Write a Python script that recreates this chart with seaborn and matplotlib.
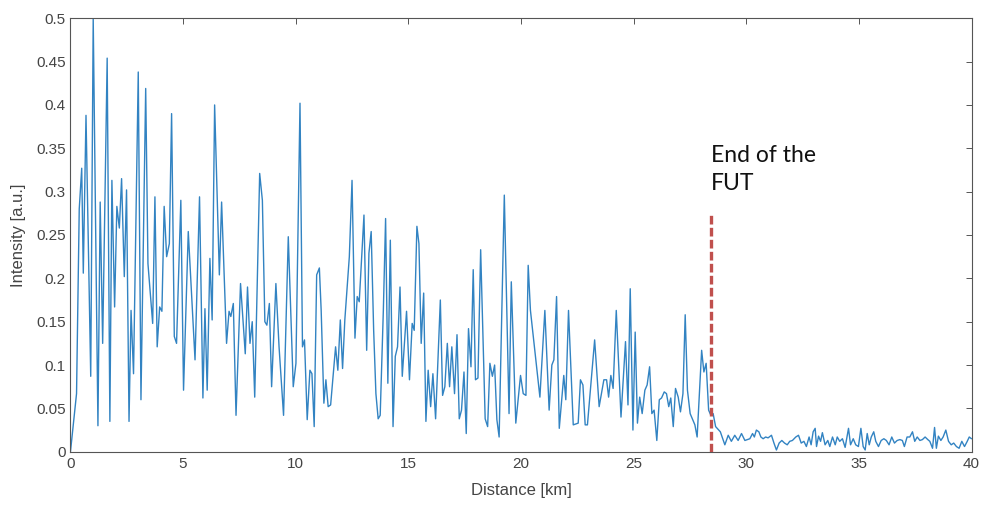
import matplotlib
matplotlib.use("Agg")
import matplotlib.pyplot as plt
import seaborn as sns
import numpy as np
import pandas as pd

# ---- data (distance in km, intensity in a.u.) ----
dist_a = [0.0, 0.27, 0.39, 0.50, 0.57, 0.69, 0.90, 1.01, 1.22, 1.32, 1.43, 1.63, 1.75, 1.84,
          1.96, 2.06, 2.17, 2.27, 2.39, 2.49, 2.60, 2.69, 2.80, 3.01, 3.13, 3.34, 3.44, 3.65,
          3.75, 3.85, 3.96, 4.06, 4.16, 4.27, 4.39, 4.49, 4.61, 4.71]
int_a = [0.0, 0.067, 0.28, 0.327, 0.206, 0.388, 0.087, 0.5, 0.03, 0.288, 0.125, 0.454, 0.035,
         0.313, 0.167, 0.283, 0.258, 0.315, 0.202, 0.302, 0.035, 0.163, 0.09, 0.438, 0.06,
         0.419, 0.217, 0.148, 0.294, 0.121, 0.167, 0.162, 0.283, 0.225, 0.24, 0.39, 0.133, 0.125]

dist_b = [4.90, 5.02, 5.23, 5.53, 5.73, 5.88, 5.97, 6.07, 6.19, 6.29, 6.40, 6.61, 6.71, 6.93,
          7.04, 7.12, 7.23, 7.35, 7.55, 7.76, 7.86, 7.97, 8.07, 8.18, 8.40, 8.52, 8.63, 8.72,
          8.83, 8.93, 9.12, 9.26, 9.46, 9.67]
int_b = [0.29, 0.071, 0.254, 0.106, 0.294, 0.062, 0.165, 0.071, 0.223, 0.152, 0.4, 0.204,
         0.288, 0.125, 0.162, 0.156, 0.171, 0.042, 0.194, 0.113, 0.19, 0.125, 0.15, 0.063,
         0.321, 0.29, 0.15, 0.146, 0.171, 0.075, 0.194, 0.121, 0.042, 0.248]

dist_c = [9.89, 10.01, 10.19, 10.30, 10.39, 10.51, 10.63, 10.72, 10.82, 10.93, 11.05, 11.13,
          11.25, 11.34, 11.44, 11.55, 11.77, 11.87, 11.98, 12.08, 12.18, 12.38, 12.50, 12.63,
          12.73, 12.82, 13.03, 13.15, 13.25, 13.35, 13.46, 13.56, 13.66, 13.75, 13.89, 13.99,
          14.09, 14.20, 14.32, 14.42, 14.52, 14.63, 14.73, 14.92]
int_c = [0.075, 0.102, 0.402, 0.121, 0.129, 0.037, 0.094, 0.09, 0.029, 0.204, 0.212, 0.163,
         0.056, 0.083, 0.052, 0.054, 0.121, 0.094, 0.152, 0.096, 0.152, 0.225, 0.313, 0.131,
         0.179, 0.173, 0.273, 0.117, 0.229, 0.254, 0.14, 0.067, 0.038, 0.042, 0.163, 0.269,
         0.079, 0.244, 0.029, 0.11, 0.121, 0.19, 0.087, 0.162]

dist_d = [15.05, 15.17, 15.26, 15.38, 15.47, 15.57, 15.68, 15.78, 15.88, 15.99, 16.09, 16.21,
          16.42, 16.52, 16.62, 16.73, 16.83, 16.93, 17.05, 17.16, 17.26, 17.36, 17.47, 17.57,
          17.67, 17.78, 17.88, 17.98, 18.09, 18.21, 18.41, 18.52, 18.62, 18.73, 18.83, 18.93,
          19.03, 19.26, 19.47, 19.57, 19.77, 19.98]
int_d = [0.083, 0.148, 0.14, 0.26, 0.24, 0.125, 0.183, 0.035, 0.094, 0.052, 0.09, 0.038,
         0.175, 0.065, 0.075, 0.125, 0.075, 0.121, 0.067, 0.135, 0.038, 0.048, 0.092, 0.021,
         0.142, 0.098, 0.21, 0.083, 0.085, 0.233, 0.038, 0.029, 0.102, 0.087, 0.1, 0.037,
         0.017, 0.296, 0.044, 0.196, 0.033, 0.088]

dist_e = [20.10, 20.22, 20.32, 20.42, 20.84, 21.06, 21.25, 21.37, 21.46, 21.58, 21.70, 21.90,
          21.99, 22.11, 22.32, 22.54, 22.64, 22.75, 22.85, 22.95, 23.27, 23.47, 23.68, 23.80,
          23.89, 23.99, 24.09, 24.23, 24.44, 24.64, 24.75, 24.85, 24.97, 25.07]
int_e = [0.067, 0.065, 0.215, 0.163, 0.063, 0.163, 0.048, 0.1, 0.106, 0.179, 0.027, 0.088,
         0.06, 0.163, 0.031, 0.033, 0.083, 0.077, 0.031, 0.031, 0.129, 0.052, 0.083, 0.083,
         0.063, 0.088, 0.073, 0.163, 0.04, 0.127, 0.054, 0.188, 0.025, 0.138]

dist_f = [25.17, 25.27, 25.38, 25.50, 25.60, 25.71, 25.81, 25.91, 26.03, 26.14, 26.24, 26.36,
          26.46, 26.56, 26.65, 26.76, 26.86, 26.98, 27.08, 27.19, 27.29, 27.39, 27.51, 27.72,
          27.82, 28.02, 28.12, 28.22, 28.33, 28.43, 28.53, 28.64, 28.85, 29.05, 29.20, 29.34,
          29.49, 29.64, 29.79, 29.94]
int_f = [0.033, 0.063, 0.044, 0.071, 0.077, 0.098, 0.044, 0.048, 0.013, 0.06, 0.062, 0.069,
         0.067, 0.052, 0.062, 0.029, 0.073, 0.063, 0.046, 0.067, 0.158, 0.071, 0.044, 0.031,
         0.017, 0.117, 0.092, 0.102, 0.048, 0.042, 0.044, 0.029, 0.023, 0.008, 0.019, 0.012,
         0.019, 0.013, 0.021, 0.013]

dist_g = [30.16, 30.28, 30.36, 30.45, 30.56, 30.65, 30.75, 30.86, 30.97, 31.12, 31.23, 31.34,
          31.46, 31.58, 31.70, 31.82, 31.93, 32.05, 32.20, 32.32, 32.44, 32.56, 32.67, 32.79,
          32.88, 32.97, 33.06, 33.12, 33.21, 33.30, 33.38, 33.50, 33.62, 33.71, 33.83, 33.95,
          34.04, 34.15, 34.27, 34.39, 34.54, 34.63, 34.75, 34.86, 34.98, 35.09, 35.19, 35.28,
          35.37, 35.46, 35.55, 35.66, 35.75, 35.87, 35.99, 36.11, 36.22, 36.34, 36.46, 36.58,
          36.70, 36.82, 36.93, 37.02, 37.14, 37.26, 37.38, 37.48, 37.59, 37.71, 37.82, 37.94,
          38.06, 38.15, 38.27, 38.36, 38.44, 38.53, 38.64, 38.74, 38.86, 38.98, 39.10, 39.21,
          39.33, 39.45, 39.57, 39.69, 39.81, 39.90, 40.00]
int_g = [0.015, 0.021, 0.017, 0.025, 0.023, 0.017, 0.015, 0.017, 0.016, 0.019, 0.010, 0.002,
         0.010, 0.013, 0.010, 0.008, 0.012, 0.013, 0.017, 0.019, 0.010, 0.012, 0.006, 0.017,
         0.008, 0.023, 0.027, 0.006, 0.018, 0.012, 0.022, 0.008, 0.013, 0.006, 0.017, 0.008,
         0.017, 0.012, 0.015, 0.005, 0.027, 0.008, 0.015, 0.008, 0.006, 0.027, 0.006, 0.002,
         0.021, 0.008, 0.017, 0.023, 0.012, 0.006, 0.013, 0.015, 0.013, 0.008, 0.017, 0.010,
         0.013, 0.014, 0.013, 0.006, 0.017, 0.017, 0.023, 0.012, 0.017, 0.013, 0.014, 0.017,
         0.014, 0.012, 0.004, 0.028, 0.004, 0.018, 0.013, 0.017, 0.025, 0.012, 0.008, 0.010,
         0.006, 0.004, 0.012, 0.006, 0.012, 0.017, 0.015]

fut_end_km = 28.43
fut_marker_top = 0.277
annotation_text = "End of the\nFUT"
x_ticks = [0, 5, 10, 15, 20, 25, 30, 35, 40]
y_ticks = [0, 0.05, 0.1, 0.15, 0.2, 0.25, 0.3, 0.35, 0.4, 0.45, 0.5]
y_tick_labels = ["0", "0.05", "0.1", "0.15", "0.2", "0.25", "0.3", "0.35", "0.4", "0.45", "0.5"]

df = pd.DataFrame({
    "Distance": dist_a + dist_b + dist_c + dist_d + dist_e + dist_f + dist_g,
    "Intensity": int_a + int_b + int_c + int_d + int_e + int_f + int_g,
})

sns.set_style("white")
plt.rcParams["font.family"] = ["Liberation Sans", "DejaVu Sans"]

fig = plt.figure(figsize=(9.84, 5.07), dpi=100)
ax = fig.add_axes([0.0716, 0.109, 0.9157, 0.855])

sns.lineplot(data=df, x="Distance", y="Intensity", ax=ax, sort=False,
             estimator=None, color="#3283c2", linewidth=1.0)

ax.plot([fut_end_km, fut_end_km], [0, fut_marker_top], color="#c0504d",
        linewidth=2.4, dashes=(2.6, 1.0), zorder=3)
ax.text(fut_end_km, 0.354, annotation_text, ha="left", va="top",
        fontsize=16.5, family=["Lato", "DejaVu Sans"], color="#111111",
        linespacing=1.45)

ax.set_xlim(0, 40)
ax.set_ylim(0, 0.5)
ax.set_xticks(x_ticks)
ax.set_yticks(y_ticks)
ax.set_yticklabels(y_tick_labels)
ax.set_xlabel("Distance [km]", fontsize=12, color="#444444", labelpad=9)
ax.set_ylabel("Intensity [a.u.]", fontsize=12, color="#444444", labelpad=7)
ax.tick_params(direction="in", top=True, right=True, length=4, width=0.7,
               colors="#555555", labelcolor="#444444", labelsize=11)
for s in ax.spines.values():
    s.set_color("#555555")
    s.set_linewidth(0.8)

fig.savefig("out.png", dpi=100)
